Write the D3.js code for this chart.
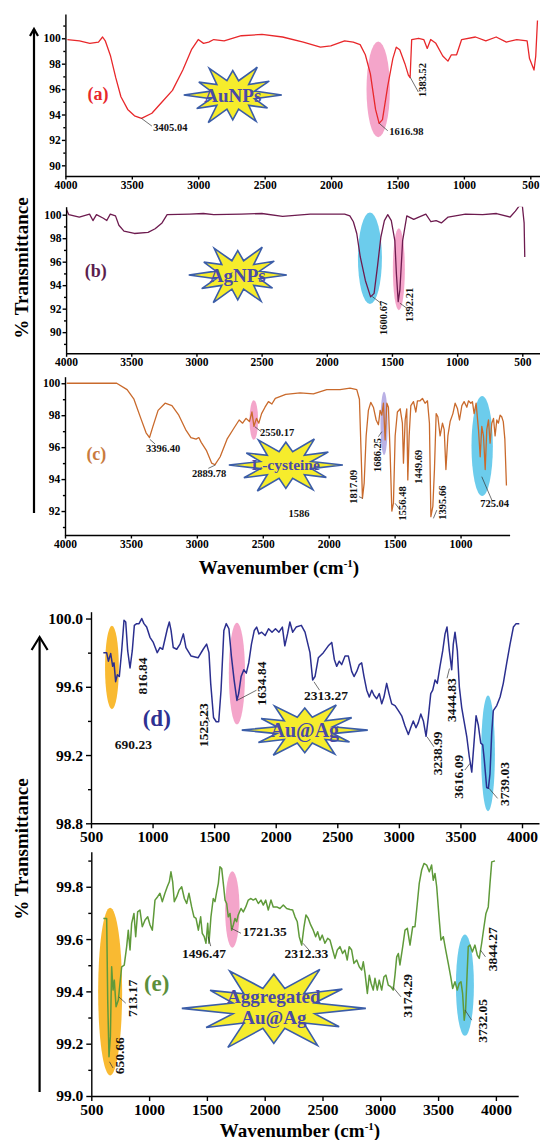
<!DOCTYPE html>
<html>
<head>
<meta charset="utf-8">
<script src="https://cdn.jsdelivr.net/npm/d3@7/dist/d3.min.js"></script>
<style>
  body { margin: 0; background: #fff; }
  svg text { font-family: "Liberation Serif", "Times New Roman", serif; font-weight: bold; }
</style>
</head>
<body>
<div id="chart"></div>
<script>
// ---- spectra: [wavenumber, %T] ----
var spectrumA = [[3985,99.9],[3894,99.8],[3816,99.6],[3751,99.7],[3720,100.1],[3700,99.8],[3660,98.6],[3621,96.9],[3582,95.4],[3531,94.4],[3480,93.9],[3427,93.7],[3349,94.1],[3271,95.0],[3194,95.9],[3116,97.5],[3051,99.1],[3000,99.9],[2960,99.6],[2921,99.7],[2883,99.9],[2805,99.8],[2676,100.2],[2520,100.3],[2365,100.1],[2209,99.7],[2080,99.3],[2002,99.4],[1898,99.8],[1833,99.7],[1781,99.5],[1742,98.7],[1704,97.2],[1665,94.4],[1638,93.3],[1613,93.6],[1574,96.2],[1535,98.4],[1509,99.3],[1483,99.1],[1444,98.0],[1418,97.1],[1405,96.9],[1393,99.9],[1341,100],[1302,99.9],[1276,99.2],[1250,99.9],[1211,99.6],[1159,98.6],[1120,98.2],[1094,98.7],[1055,98.7],[1017,99.9],[913,100.1],[835,99.8],[757,100.1],[680,99.7],[602,99.9],[524,99.8],[506,98.4],[472,97.5],[459,98.6],[446,101.4]];

var spectrumB = [[4000,100.5],[3979,100],[3899,99.8],[3820,100.05],[3794,99.5],[3767,100],[3714,99.7],[3688,99.5],[3661,100.05],[3621,99.9],[3595,99.1],[3556,98.6],[3476,98.4],[3371,98.5],[3317,98.8],[3264,99.3],[3225,100],[3053,100.05],[2947,100.1],[2867,100],[2656,100.05],[2498,100.1],[2339,99.85],[2127,100.05],[1863,100.05],[1823,99.9],[1796,99.4],[1770,98.4],[1743,96.4],[1704,94.4],[1664,93.0],[1637,93.3],[1611,95.6],[1585,98.1],[1558,99.5],[1532,100],[1505,99.5],[1478,97.8],[1466,95.0],[1452,92.6],[1439,93.6],[1418,97.8],[1386,99.9],[1333,99.6],[1294,99.8],[1240,100.05],[1201,99.4],[1161,99.5],[1121,99.3],[1069,99.8],[936,100.05],[804,100],[698,100.1],[593,99.8],[553,100.3],[526,100.7],[500,100.8],[486,99.3],[481,96.4]];

var spectrumC = [[3987,100],[3608,100],[3529,99.6],[3477,99.0],[3425,97.8],[3385,96.9],[3359,96.6],[3333,97.3],[3294,98.3],[3241,98.75],[3189,98.6],[3137,98.0],[3085,97.1],[3045,96.6],[3006,96.5],[2985,96.6],[2967,96.3],[2928,95.8],[2888,95.0],[2862,94.9],[2823,95.4],[2771,96.5],[2718,97.2],[2679,97.7],[2653,97.5],[2627,97.8],[2601,97.6],[2582,98.2],[2567,97.3],[2548,97.8],[2530,97.5],[2509,98.1],[2483,98.5],[2457,98.85],[2431,98.7],[2405,99.05],[2326,99.3],[2217,99.4],[2116,99.33],[2015,99.6],[1914,99.6],[1838,99.7],[1787,99.6],[1767,99.0],[1754,95.6],[1744,92.8],[1731,93.75],[1716,96.7],[1699,98.3],[1681,98.8],[1661,98.5],[1640,97.7],[1623,97.4],[1610,98.3],[1597,98.0],[1585,98.75],[1572,96.45],[1559,98.75],[1547,98.5],[1534,95.6],[1521,92.0],[1509,92.5],[1496,96.7],[1479,98.2],[1458,98.4],[1441,97.5],[1433,95.0],[1420,97.7],[1408,98.4],[1400,93.95],[1390,96.7],[1377,98.6],[1357,98.85],[1339,98.2],[1327,98.9],[1307,98.9],[1289,99.05],[1269,98.75],[1251,98.9],[1236,97.5],[1225,91.65],[1210,92.3],[1198,94.6],[1185,98.1],[1172,97.9],[1155,96.7],[1137,97.5],[1124,97.1],[1111,94.6],[1096,96.7],[1079,97.6],[1058,98.1],[1041,98.75],[1023,98.4],[1008,97.7],[990,98.6],[973,98.85],[952,98.5],[940,98.9],[922,98.75],[910,98.85],[897,98.1],[882,98.75],[864,97.1],[851,95.4],[839,97.3],[826,96.7],[813,94.6],[801,97.1],[788,97.7],[776,96.25],[763,97.5],[750,97.8],[738,96.7],[725,97.7],[713,97.5],[700,98.0],[688,97.9],[676,97.6],[664,96.5],[652,93.6]];

var spectrumD = [[600,99.80],[627,99.80],[641,99.75],[660,99.795],[676,99.72],[687,99.74],[700,99.63],[714,99.67],[730,99.66],[749,99.81],[768,99.99],[782,99.98],[798,99.81],[817,99.71],[835,99.81],[852,99.96],[871,99.97],[890,99.97],[912,100.0],[930,99.97],[952,99.95],[979,99.89],[1006,99.86],[1038,99.80],[1060,99.83],[1082,99.82],[1101,99.88],[1120,99.94],[1136,99.98],[1150,99.93],[1168,99.83],[1196,99.82],[1223,99.85],[1250,99.91],[1271,99.83],[1313,99.78],[1369,99.77],[1411,99.82],[1439,99.85],[1458,99.80],[1472,99.62],[1495,99.42],[1517,99.395],[1537,99.395],[1556,99.58],[1579,99.93],[1598,99.97],[1620,99.94],[1640,99.78],[1662,99.64],[1685,99.52],[1699,99.56],[1719,99.66],[1741,99.70],[1761,99.68],[1781,99.74],[1803,99.85],[1826,99.93],[1845,99.95],[1864,99.91],[1886,99.92],[1914,99.90],[1942,99.94],[1970,99.92],[1998,99.94],[2026,99.92],[2054,99.95],[2074,99.84],[2096,99.91],[2115,99.98],[2138,99.92],[2166,99.95],[2208,99.96],[2238,99.92],[2278,99.80],[2300,99.64],[2319,99.66],[2346,99.77],[2387,99.80],[2427,99.84],[2455,99.86],[2476,99.76],[2495,99.72],[2516,99.75],[2536,99.73],[2563,99.78],[2590,99.78],[2617,99.69],[2636,99.66],[2658,99.69],[2679,99.73],[2698,99.74],[2717,99.66],[2739,99.58],[2760,99.54],[2780,99.58],[2798,99.55],[2820,99.53],[2841,99.56],[2861,99.50],[2879,99.54],[2901,99.62],[2920,99.56],[2942,99.50],[2969,99.49],[2996,99.46],[3023,99.43],[3050,99.37],[3077,99.32],[3096,99.36],[3117,99.40],[3139,99.36],[3158,99.39],[3178,99.44],[3199,99.40],[3221,99.31],[3239,99.42],[3259,99.56],[3275,99.58],[3294,99.64],[3312,99.62],[3334,99.72],[3356,99.81],[3375,99.91],[3391,99.95],[3410,99.81],[3429,99.70],[3442,99.85],[3456,99.92],[3475,99.81],[3491,99.60],[3510,99.48],[3529,99.40],[3551,99.31],[3572,99.19],[3592,99.10],[3610,99.27],[3627,99.43],[3645,99.375],[3665,99.27],[3681,99.26],[3694,99.17],[3713,99.01],[3727,99.005],[3740,99.09],[3754,99.33],[3767,99.46],[3795,99.49],[3822,99.54],[3848,99.62],[3876,99.74],[3903,99.85],[3930,99.95],[3952,99.97],[3978,99.97]];

var spectrumE = [[604,99.679],[633,99.679],[642,99.367],[653,99.15],[665,99.227],[676,99.494],[688,99.405],[699,99.443],[714,99.341],[734,99.367],[748,99.431],[763,99.494],[785,99.5],[806,99.571],[820,99.634],[835,99.558],[849,99.66],[869,99.698],[884,99.609],[901,99.704],[921,99.711],[941,99.647],[965,99.673],[988,99.685],[1008,99.654],[1028,99.634],[1051,99.749],[1074,99.762],[1094,99.775],[1114,99.743],[1137,99.775],[1157,99.8],[1175,99.819],[1189,99.857],[1204,99.819],[1218,99.743],[1239,99.762],[1259,99.787],[1282,99.8],[1305,99.755],[1325,99.736],[1345,99.775],[1368,99.723],[1388,99.685],[1406,99.679],[1426,99.634],[1446,99.685],[1460,99.622],[1477,99.609],[1492,99.584],[1507,99.66],[1518,99.584],[1535,99.685],[1555,99.755],[1570,99.743],[1585,99.781],[1599,99.813],[1613,99.876],[1628,99.87],[1642,99.813],[1657,99.749],[1671,99.736],[1685,99.685],[1700,99.698],[1714,99.634],[1728,99.654],[1743,99.679],[1757,99.666],[1771,99.692],[1795,99.717],[1815,99.704],[1836,99.723],[1858,99.749],[1881,99.755],[1901,99.749],[1922,99.755],[1945,99.736],[1968,99.749],[1988,99.73],[2009,99.749],[2031,99.711],[2054,99.749],[2074,99.723],[2104,99.723],[2132,99.717],[2161,99.73],[2190,99.717],[2219,99.713],[2242,99.711],[2262,99.685],[2282,99.666],[2299,99.609],[2320,99.577],[2340,99.647],[2357,99.692],[2377,99.679],[2398,99.654],[2420,99.634],[2441,99.609],[2458,99.628],[2478,99.596],[2498,99.615],[2521,99.584],[2545,99.603],[2565,99.596],[2588,99.558],[2608,99.526],[2628,99.558],[2651,99.571],[2674,99.545],[2694,99.558],[2714,99.52],[2731,99.571],[2752,99.558],[2772,99.507],[2796,99.52],[2818,99.494],[2839,99.482],[2853,99.513],[2868,99.469],[2888,99.392],[2905,99.462],[2920,99.431],[2939,99.405],[2954,99.45],[2974,99.405],[2991,99.443],[3012,99.405],[3032,99.456],[3049,99.462],[3069,99.424],[3090,99.418],[3112,99.405],[3127,99.462],[3142,99.532],[3156,99.545],[3170,99.501],[3194,99.571],[3214,99.634],[3234,99.641],[3257,99.577],[3280,99.647],[3300,99.647],[3320,99.736],[3337,99.813],[3358,99.864],[3378,99.889],[3401,99.883],[3424,99.857],[3444,99.883],[3458,99.825],[3473,99.851],[3488,99.8],[3508,99.685],[3525,99.596],[3545,99.609],[3566,99.558],[3588,99.507],[3609,99.456],[3626,99.411],[3646,99.437],[3666,99.405],[3683,99.431],[3698,99.437],[3712,99.392],[3726,99.29],[3738,99.329],[3750,99.456],[3761,99.571],[3776,99.577],[3796,99.551],[3819,99.577],[3839,99.539],[3856,99.526],[3877,99.584],[3897,99.647],[3914,99.698],[3934,99.723],[3949,99.813],[3964,99.895],[3992,99.899]];

// ---- tick labels ----
var ticksTopX = [4000, 3500, 3000, 2500, 2000, 1500, 1000, 500];
var ticksTopY = [90, 92, 94, 96, 98, 100];
var minorTopY = [89, 91, 93, 95, 97, 99, 101];
var ticksBotX = [500, 1000, 1500, 2000, 2500, 3000, 3500, 4000];
var ticksDY = [98.8, 99.2, 99.6, 100.0];
var minorDY = [99.0, 99.4, 99.8];
var ticksEY = [99.0, 99.2, 99.4, 99.6, 99.8];
var minorEY = [99.1, 99.3, 99.5, 99.7, 99.9];

var starSpikes = [1.0, 0.82, 0.95, 0.78, 1.0, 0.85, 1.0, 0.8, 0.96, 0.76, 1.0, 0.86];

var pink = '#f39bc4', blue = '#5cc6ea', orange = '#f8b31c', lilac = '#b3a9e2';

var panels = [
  { data: spectrumA, color: '#e8282b', width: 1.3,
    x: d3.scaleLinear().domain([4000, 427]).range([65.4, 540]),
    y: d3.scaleLinear().domain([89.16, 101.91]).range([176, 14]),
    xt: ticksTopX, yt: ticksTopY, ym: minorTopY, fmt: d3.format('d'), fs: 11.5, small: true,
    tag: { t: '(a)', nu: 3755, v: 95.14, c: '#e8282b', fs: 18 },
    ell: [{ nu: 1645, v: 95.98, rx: 11.7, ry: 47.8, c: pink }],
    star: { nu: 2740, v: 95.54, w: 98, h: 64, lines: ['AuNPs'], fs: 19 },
    peaks: [
      { t: '3405.04', nu: 3338, v: 92.74, lead: [3428, 93.7, 3349, 93.09] },
      { t: '1616.98', nu: 1561, v: 92.35, lead: [1638, 93.31, 1573, 92.72] },
      { t: '1383.52', nu: 1314, v: 96.72, rot: true, lead: [1404, 96.93, 1343, 95.77] }
    ] },
  { data: spectrumB, color: '#6d1b4f', width: 1.3,
    x: d3.scaleLinear().domain([4000, 368]).range([66.1, 539.5]),
    y: d3.scaleLinear().domain([88.2, 100.68]).range([353.3, 206.7]),
    xt: ticksTopX, yt: ticksTopY, ym: minorTopY, fmt: d3.format('d'), fs: 11.5, small: true,
    tag: { t: '(b)', nu: 3772, v: 94.7, c: '#5b1f4f', fs: 18 },
    ell: [{ nu: 1669, v: 96.29, rx: 12, ry: 45.8, c: blue }, { nu: 1447, v: 95.36, rx: 6, ry: 41, c: pink }],
    star: { nu: 2683, v: 94.87, w: 98, h: 64, lines: ['AgNPs'], fs: 19 },
    peaks: [
      { t: '1600.67', nu: 1566, v: 91.22, rot: true, lead: [1651, 93.03, 1585, 92.47] },
      { t: '1392.21', nu: 1365, v: 92.32, rot: true, lead: [1439, 92.47, 1386, 92.04] }
    ] },
  { data: spectrumC, color: '#c96a2c', width: 1.3,
    x: d3.scaleLinear().domain([4000, 628]).range([65, 509.6]),
    y: d3.scaleLinear().domain([90.5, 100.41]).range([535, 376.7]),
    xt: ticksTopX, yt: ticksTopY, ym: minorTopY, fmt: d3.format('d'), fs: 11.5, small: true,
    tag: { t: '(c)', nu: 3762, v: 95.19, c: '#c97b3e', fs: 18 },
    ell: [{ nu: 2568, v: 97.7, rx: 4.3, ry: 19.7, c: pink }, { nu: 1580, v: 97.49, rx: 3.6, ry: 31.7, c: lilac },
          { nu: 836, v: 96.07, rx: 10.7, ry: 50, c: blue }],
    star: { nu: 2325, v: 94.88, w: 114, h: 60, lines: ['L-cysteine'], fs: 15.5 },
    peaks: [
      { t: '3396.40', nu: 3385, v: 95.7, lead: [3357, 96.49, 3317, 96.2] },
      { t: '2889.78', nu: 3036, v: 94.13, lead: [2860, 94.88, 2913, 94.67] },
      { t: '2550.17', nu: 2521, v: 96.67, lead: [2560, 97.28, 2513, 96.97] },
      { t: '1586', nu: 2225, v: 91.62, mid: true },
      { t: '1817.09', nu: 1813, v: 93.52, rot: true, lead: [1744, 92.8, 1770, 92.9] },
      { t: '1686.25', nu: 1631, v: 95.51, rot: true, lead: [1597, 96.97, 1623, 96.65] },
      { t: '1556.48', nu: 1441, v: 92.48, rot: true, lead: [1496, 92.48, 1458, 92.06] },
      { t: '1449.69', nu: 1320, v: 94.77, rot: true },
      { t: '1395.66', nu: 1142, v: 92.53, rot: true, lead: [1206, 91.54, 1180, 92.06] },
      { t: '725.04', nu: 851, v: 92.28, lead: [839, 94.15, 763, 92.69] }
    ] },
  { data: spectrumD, color: '#2b2f8f', width: 1.5,
    x: d3.scaleLinear().domain([500, 4138]).range([91, 539]),
    y: d3.scaleLinear().domain([98.8, 100.04]).range([823.3, 611.7]),
    xt: ticksBotX, yt: ticksDY, ym: minorDY, fmt: d3.format('.1f'), fs: 15.5, small: false,
    tag: { t: '(d)', nu: 1034, v: 99.369, c: '#2e3192', fs: 23 },
    ell: [{ nu: 670, v: 99.713, rx: 6.9, ry: 41.8, c: orange }, { nu: 1685, v: 99.678, rx: 8.1, ry: 50.8, c: pink },
          { nu: 3724, v: 99.21, rx: 6.9, ry: 57.8, c: blue }],
    star: { nu: 2236, v: 99.346, w: 126, h: 58, lines: ['Au@Ag'], fs: 20 },
    peaks: [
      { t: '690.23', nu: 844, v: 99.238, mid: true },
      { t: '816.84', nu: 913, v: 99.663, rot: true },
      { t: '1525.23', nu: 1411, v: 99.375, rot: true, lead: [1462, 99.395, 1434, 99.45] },
      { t: '1634.84', nu: 1886, v: 99.619, rot: true, lead: [1691, 99.522, 1844, 99.58] },
      { t: '2313.27', nu: 2408, v: 99.525, mid: true, lead: [2311, 99.629, 2356, 99.58] },
      { t: '3238.99', nu: 3312, v: 99.21, rot: true, lead: [3229, 99.307, 3285, 99.248] },
      { t: '3444.83', nu: 3424, v: 99.522, rot: true, lead: [3411, 99.707, 3391, 99.65] },
      { t: '3616.09', nu: 3486, v: 99.073, rot: true, lead: [3578, 99.151, 3536, 99.112] },
      { t: '3739.03', nu: 3858, v: 99.03, rot: true, lead: [3732, 99.005, 3802, 98.946] }
    ] },
  { data: spectrumE, color: '#5f9a3a', width: 1.5,
    x: d3.scaleLinear().domain([500, 4193]).range([91.3, 518.2]),
    y: d3.scaleLinear().domain([99.0, 99.934]).range([1096, 851.7]),
    xt: ticksBotX, yt: ticksEY, ym: minorEY, fmt: d3.format('.1f'), fs: 15.5, small: false,
    tag: { t: '(e)', nu: 1066, v: 99.401, c: '#5c8f3b', fs: 23 },
    ell: [{ nu: 663, v: 99.399, rx: 12, ry: 83.8, c: orange }, { nu: 1720, v: 99.713, rx: 7.2, ry: 38.2, c: pink },
          { nu: 3732, v: 99.424, rx: 9, ry: 50.7, c: blue }],
    star: { nu: 2079, v: 99.335, w: 184, h: 90, lines: ['Aggregated', 'Au@Ag'], fs: 19 },
    peaks: [
      { t: '650.66', nu: 738, v: 99.154, rot: true, lead: [657, 99.131, 688, 99.107] },
      { t: '713.17', nu: 857, v: 99.373, rot: true, lead: [738, 99.379, 798, 99.355] },
      { t: '1496.47', nu: 1475, v: 99.529, mid: true, lead: [1512, 99.609, 1533, 99.573] },
      { t: '1721.35', nu: 2001, v: 99.61, mid: true, lead: [1712, 99.641, 1795, 99.622] },
      { t: '2312.33', nu: 2361, v: 99.529, mid: true, lead: [2331, 99.584, 2383, 99.558] },
      { t: '3174.29', nu: 3234, v: 99.383, rot: true, lead: [3106, 99.418, 3179, 99.379] },
      { t: '3732.05', nu: 3880, v: 99.287, rot: true, lead: [3732, 99.329, 3791, 99.29] },
      { t: '3844.27', nu: 3970, v: 99.561, rot: true, lead: [3866, 99.558, 3910, 99.532] }
    ] }
];

var svg = d3.select('#chart').append('svg')
  .attr('width', 540)
  .attr('height', 1140);

function starPath(w, h) {
  var n = starSpikes.length, pts = [];
  for (var i = 0; i < n * 2; i++) {
    var a = Math.PI * i / n;
    var r = i % 2 ? 0.46 : starSpikes[i / 2];
    pts.push([Math.cos(a) * r * w / 2, Math.sin(a) * r * h / 2]);
  }
  return d3.line().curve(d3.curveLinearClosed)(pts);
}

function inDomain(scale) {
  var d = scale.domain(), lo = Math.min(d[0], d[1]), hi = Math.max(d[0], d[1]);
  return function(v) { return v >= lo && v <= hi; };
}

panels.forEach(function(p, k) {
  var g = svg.append('g');
  var xr = p.x.range(), yr = p.y.range();

  g.append('clipPath').attr('id', 'clip' + k)
    .append('rect')
    .attr('x', xr[0]).attr('y', yr[1])
    .attr('width', xr[1] - xr[0]).attr('height', yr[0] - yr[1]);

  // highlight ellipses behind the trace
  g.selectAll('ellipse').data(p.ell).enter().append('ellipse')
    .attr('cx', function(d) { return p.x(d.nu); })
    .attr('cy', function(d) { return p.y(d.v); })
    .attr('rx', function(d) { return d.rx; })
    .attr('ry', function(d) { return d.ry; })
    .style('fill', function(d) { return d.c; })
    .style('opacity', 0.9);

  var line = d3.line()
    .x(function(d) { return p.x(d[0]); })
    .y(function(d) { return p.y(d[1]); });

  g.append('path')
    .datum(p.data)
    .attr('clip-path', 'url(#clip' + k + ')')
    .attr('d', line)
    .style('fill', 'none')
    .style('stroke', p.color)
    .style('stroke-width', p.width)
    .style('stroke-linejoin', 'round');

  // leader lines
  g.selectAll('.lead').data(p.peaks.filter(function(d) { return d.lead; })).enter()
    .append('line')
    .attr('x1', function(d) { return p.x(d.lead[0]); })
    .attr('y1', function(d) { return p.y(d.lead[1]); })
    .attr('x2', function(d) { return p.x(d.lead[2]); })
    .attr('y2', function(d) { return p.y(d.lead[3]); })
    .style('stroke', '#333')
    .style('stroke-width', 0.7);

  var pfs = p.small ? 10.5 : 13.5;
  g.selectAll('.peak').data(p.peaks).enter().append('text')
    .attr('transform', function(d) {
      var t = 'translate(' + p.x(d.nu) + ',' + p.y(d.v) + ')';
      return d.rot ? t + ' rotate(-90)' : t;
    })
    .attr('dy', function(d) { return d.rot ? '0.35em' : 0; })
    .attr('text-anchor', function(d) { return d.rot || d.mid ? 'middle' : 'start'; })
    .style('font-size', pfs + 'px')
    .style('fill', '#111')
    .text(function(d) { return d.t; });

  // starburst
  var s = p.star;
  var sg = g.append('g')
    .attr('transform', 'translate(' + p.x(s.nu) + ',' + p.y(s.v) + ')');
  sg.append('path')
    .attr('d', starPath(s.w, s.h))
    .style('fill', '#f6ec2c')
    .style('stroke', '#3b5da8')
    .style('stroke-width', 1.6)
    .style('stroke-linejoin', 'miter');
  sg.selectAll('text').data(s.lines).enter().append('text')
    .attr('text-anchor', 'middle')
    .attr('y', function(d, i) { return s.lines.length > 1 ? (i === 0 ? -12 : 9) : 0; })
    .attr('dy', '0.35em')
    .style('font-size', s.fs + 'px')
    .style('fill', '#4a4aa6')
    .text(function(d) { return d; });

  g.append('text')
    .attr('x', p.x(p.tag.nu)).attr('y', p.y(p.tag.v))
    .attr('text-anchor', 'middle')
    .style('font-size', p.tag.fs + 'px')
    .style('fill', p.tag.c)
    .text(p.tag.t);

  // axes
  var ts = p.small ? 3.5 : 5, pad = p.small ? 1.2 : 3;

  var xAxis = g.append('g')
    .attr('transform', 'translate(0,' + yr[0] + ')')
    .call(d3.axisBottom(p.x).tickValues(p.xt.filter(inDomain(p.x)))
      .tickSize(ts).tickSizeOuter(0).tickPadding(pad).tickFormat(d3.format('d')));
  var yAxis = g.append('g')
    .attr('transform', 'translate(' + xr[0] + ',0)')
    .call(d3.axisLeft(p.y).tickValues(p.yt.filter(inDomain(p.y)))
      .tickSize(ts).tickSizeOuter(0).tickPadding(pad).tickFormat(p.fmt));
  var yMinor = g.append('g')
    .attr('transform', 'translate(' + xr[0] + ',0)')
    .call(d3.axisLeft(p.y).tickValues(p.ym.filter(inDomain(p.y))).tickSize(ts * 0.6).tickFormat(''));
  yMinor.select('.domain').remove();

  [xAxis, yAxis, yMinor].forEach(function(a) {
    a.selectAll('path, line').style('stroke', '#000').style('stroke-width', 1.4);
    a.selectAll('text')
      .style('font-family', '"Liberation Serif", serif')
      .style('font-weight', 'bold')
      .style('font-size', p.fs + 'px')
      .style('fill', '#000');
  });
});

// group arrows and axis titles
function arrow(x, y0, y1, hw, hh) {
  svg.append('line')
    .attr('x1', x).attr('y1', y1).attr('x2', x).attr('y2', y0)
    .style('stroke', '#000').style('stroke-width', 2.2);
  svg.append('path')
    .attr('d', d3.line()([[x - hw, y0 + hh], [x, y0], [x + hw, y0 + hh]]))
    .style('fill', 'none').style('stroke', '#000').style('stroke-width', 2.2);
}
arrow(34, 29, 513, 4, 7);
arrow(39.6, 637, 1092, 8, 13);

[268, 849].forEach(function(cy) {
  svg.append('text')
    .attr('transform', 'translate(21,' + cy + ') rotate(-90)')
    .attr('text-anchor', 'middle')
    .attr('dy', '0.35em')
    .style('font-size', '19px')
    .style('fill', '#000')
    .text('% Transmittance');
});

[[279, 574], [300, 1137]].forEach(function(c) {
  var t = svg.append('text')
    .attr('x', c[0]).attr('y', c[1])
    .attr('text-anchor', 'middle')
    .style('font-size', '19px')
    .style('fill', '#000');
  t.append('tspan').text('Wavenumber (cm');
  t.append('tspan').attr('dy', -7).style('font-size', '11px').text('-1');
  t.append('tspan').attr('dy', 7).text(')');
});
</script>
</body>
</html>
